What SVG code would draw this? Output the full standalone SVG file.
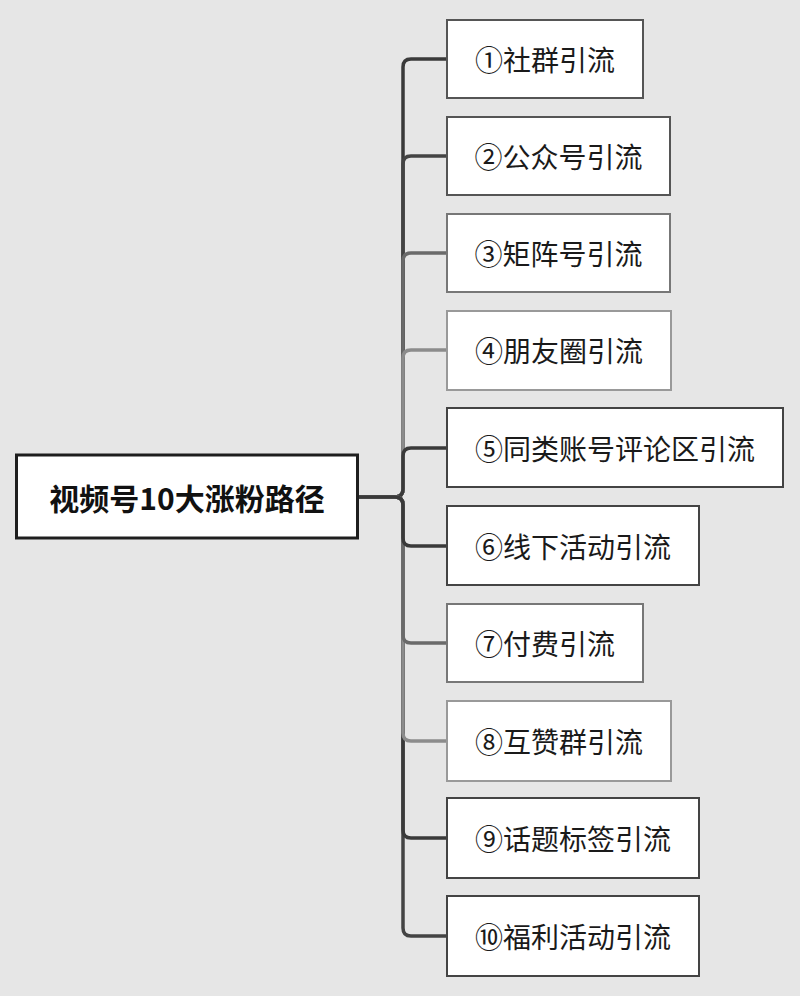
<svg xmlns="http://www.w3.org/2000/svg" width="800" height="996" viewBox="0 0 800 996">
<style>
.bg{fill:#e6e6e6}
.box{fill:#ffffff;stroke-width:2}
.root{fill:#ffffff;stroke:#1e1e1e;stroke-width:3}
.t{font-family:"Noto Sans CJK SC","Noto Sans",sans-serif;font-size:28px;fill:#1a1a1a;text-anchor:middle;dominant-baseline:central}
.rt{font-family:"Noto Sans CJK SC","Noto Sans",sans-serif;font-size:30px;font-weight:bold;fill:#111;text-anchor:middle;dominant-baseline:central}
.c{fill:none;stroke-width:3.5;stroke-linecap:round;stroke-linejoin:round}
.d1{stroke:#3a3a3a}.d2{stroke:#444}.d3{stroke:#6a6a6a}.d4{stroke:#8c8c8c}
</style>
<rect class="bg" x="0" y="0" width="800" height="996"/>
<g id="connectors">
<path class="c d1" d="M357 497 H395 Q403 497 403 489 V67 Q403 59 411 59 H447"/>
<path class="c d2" d="M357 497 H395 Q403 497 403 489 V164 Q403 156 411 156 H447"/>
<path class="c d3" d="M357 497 H395 Q403 497 403 489 V261 Q403 253 411 253 H447"/>
<path class="c d4" d="M357 497 H395 Q403 497 403 489 V358 Q403 350 411 350 H447"/>
<path class="c d1" d="M357 497 H395 Q403 497 403 489 V456 Q403 448 411 448 H447"/>
<path class="c d2" d="M357 497 H395 Q403 497 403 505 V928 Q403 936 411 936 H447"/>
<path class="c d1" d="M357 497 H395 Q403 497 403 505 V830 Q403 838 411 838 H447"/>
<path class="c d4" d="M357 497 H395 Q403 497 403 505 V733 Q403 741 411 741 H447"/>
<path class="c d3" d="M357 497 H395 Q403 497 403 505 V635 Q403 643 411 643 H447"/>
<path class="c d1" d="M357 497 H395 Q403 497 403 505 V538 Q403 546 411 546 H447"/>
</g>
<g id="root">
<rect class="root" x="16.5" y="455" width="341" height="83"/>
<text class="rt" x="187" y="497">视频号10大涨粉路径</text>
</g>
<g id="n1"><rect class="box" x="447" y="20" width="196" height="78" stroke="#555"/><text class="t" x="545" y="59">①社群引流</text></g>
<g id="n2"><rect class="box" x="447" y="117" width="223" height="78" stroke="#555"/><text class="t" x="558.5" y="156">②公众号引流</text></g>
<g id="n3"><rect class="box" x="447" y="214" width="223" height="78" stroke="#777"/><text class="t" x="558.5" y="253">③矩阵号引流</text></g>
<g id="n4"><rect class="box" x="447" y="311" width="224" height="79" stroke="#999"/><text class="t" x="559" y="350">④朋友圈引流</text></g>
<g id="n5"><rect class="box" x="447" y="408" width="336" height="79" stroke="#444"/><text class="t" x="615" y="448">⑤同类账号评论区引流</text></g>
<g id="n6"><rect class="box" x="447" y="506" width="252" height="79" stroke="#444"/><text class="t" x="573" y="546">⑥线下活动引流</text></g>
<g id="n7"><rect class="box" x="447" y="604" width="196" height="78" stroke="#777"/><text class="t" x="545" y="643">⑦付费引流</text></g>
<g id="n8"><rect class="box" x="447" y="701" width="224" height="80" stroke="#999"/><text class="t" x="559" y="741">⑧互赞群引流</text></g>
<g id="n9"><rect class="box" x="447" y="798" width="252" height="80" stroke="#444"/><text class="t" x="573" y="838">⑨话题标签引流</text></g>
<g id="n10"><rect class="box" x="447" y="896" width="252" height="80" stroke="#444"/><text class="t" x="573" y="936">⑩福利活动引流</text></g>
</svg>
